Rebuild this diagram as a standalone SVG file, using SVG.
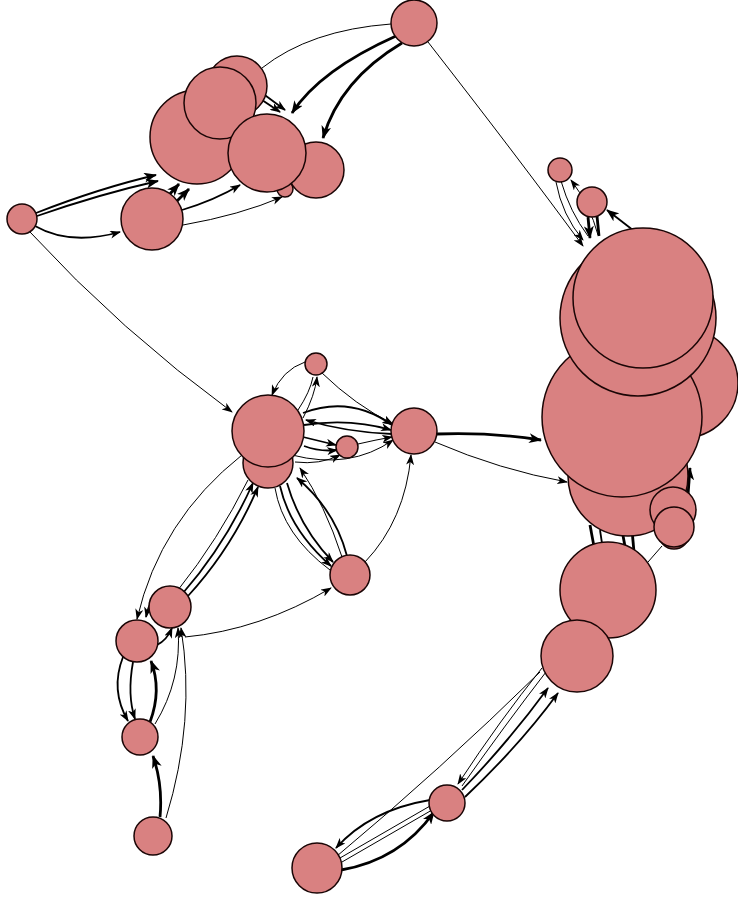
<svg xmlns="http://www.w3.org/2000/svg" width="738" height="902" viewBox="0 0 738 902">
<defs>
<marker id="a" markerUnits="userSpaceOnUse" markerWidth="11" markerHeight="8" refX="10" refY="4" orient="auto"><path d="M0,0 L11,4 L0,8 L3,4 z" fill="#000"/></marker>
<marker id="b" markerUnits="userSpaceOnUse" markerWidth="13" markerHeight="10" refX="12" refY="5" orient="auto"><path d="M0,0 L13,5 L0,10 L3.5,5 z" fill="#000"/></marker>
</defs>
<style>
.n{fill:#d98181;stroke:#1a0505;stroke-width:1.5}
.e{fill:none;stroke:#000;stroke-width:1}
.m{fill:none;stroke:#000;stroke-width:1.8}
.t{fill:none;stroke:#000;stroke-width:2.8}
</style>
<rect width="738" height="902" fill="#fff"/>
<g id="edges">
<!-- top -->
<path class="e" d="M391,24 Q310,30 262,68"/>
<path class="t" d="M396,36 Q320,70 292,113" marker-end="url(#b)"/>
<path class="t" d="M402,43 Q340,80 323,138" marker-end="url(#b)"/>
<path class="m" d="M250,92 L280,112" marker-end="url(#a)"/>
<path class="m" d="M258,90 L285,110" marker-end="url(#a)"/>
<path class="e" d="M428,42 Q520,160 583,246" marker-end="url(#a)"/>
<path class="m" d="M36,213 Q100,188 156,175" marker-end="url(#b)"/>
<path class="m" d="M37,216 Q100,194 158,181" marker-end="url(#b)"/>
<path class="m" d="M35,226 Q70,246 120,232" marker-end="url(#a)"/>
<path class="e" d="M30,232 Q120,330 232,412" marker-end="url(#a)"/>
<path class="t" d="M168,196 L179,184" marker-end="url(#b)"/>
<path class="t" d="M177,201 L189,189" marker-end="url(#b)"/>
<path class="m" d="M182,210 Q215,200 240,185" marker-end="url(#a)"/>
<path class="e" d="M183,225 Q240,215 282,197" marker-end="url(#a)"/>
<!-- right top -->
<path class="e" d="M598,235 Q590,205 571,180" marker-end="url(#a)"/>
<path class="e" d="M556,182 Q562,215 583,240" marker-end="url(#a)"/>
<path class="e" d="M561,181 Q570,212 588,236"/>
<path class="t" d="M588,217 L590,238" marker-end="url(#b)"/>
<path class="t" d="M597,216 L599,236"/>
<path class="m" d="M638,234 L607,210" marker-end="url(#b)"/>
<!-- right middle -->
<path class="t" d="M437,434 Q490,432 541,440" marker-end="url(#b)"/>
<path class="e" d="M435,442 Q500,470 567,482" marker-end="url(#a)"/>
<path class="t" d="M590,525 L595,552"/>
<path class="m" d="M600,530 L603,550"/>
<path class="t" d="M622,530 L626,552" stroke-width="4"/>
<path class="t" d="M632,530 L634,552" stroke-width="4"/>
<path class="t" d="M688,495 L690,468" marker-end="url(#b)"/>
<path class="e" d="M662,546 L648,562"/>
<!-- M N O -->
<path class="e" d="M542,668 Q500,720 458,784" marker-end="url(#a)"/>
<path class="e" d="M546,672 Q505,725 462,786"/>
<path class="m" d="M462,790 Q510,740 548,688" marker-end="url(#a)"/>
<path class="m" d="M465,797 Q520,745 558,693" marker-end="url(#a)"/>
<path class="e" d="M540,672 Q440,770 337,856"/>
<path class="m" d="M430,800 Q370,810 336,848" marker-end="url(#a)"/>
<path class="t" d="M341,870 Q400,860 434,812" marker-end="url(#b)"/>
<path class="e" d="M430,806 L340,858"/>
<path class="e" d="M432,810 L342,862"/>
<!-- middle -->
<path class="e" d="M305,362 Q282,370 272,395" marker-end="url(#a)"/>
<path class="e" d="M303,418 Q315,395 317,377" marker-end="url(#a)"/>
<path class="e" d="M298,410 Q310,392 313,377"/>
<path class="e" d="M322,373 Q355,405 393,424" marker-end="url(#a)"/>
<path class="m" d="M303,413 Q350,395 392,425" marker-end="url(#a)"/>
<path class="m" d="M304,425 Q350,418 391,430" marker-end="url(#a)"/>
<path class="m" d="M392,434 Q345,432 306,420" marker-end="url(#a)"/>
<path class="m" d="M303,437 L336,445" marker-end="url(#a)"/>
<path class="m" d="M304,446 Q320,452 337,450" marker-end="url(#a)"/>
<path class="e" d="M358,444 Q375,440 392,437" marker-end="url(#a)"/>
<path class="e" d="M292,455 Q350,470 393,440" marker-end="url(#a)"/>
<path class="e" d="M295,462 Q320,465 340,455" marker-end="url(#a)"/>
<path class="m" d="M280,486 Q290,530 331,566" marker-end="url(#a)"/>
<path class="m" d="M287,483 Q300,528 333,562" marker-end="url(#a)"/>
<path class="e" d="M275,488 Q283,535 330,570"/>
<path class="m" d="M347,556 Q335,510 297,478" marker-end="url(#a)"/>
<path class="e" d="M342,557 Q325,505 300,468" marker-end="url(#a)"/>
<path class="e" d="M365,562 Q405,520 411,455" marker-end="url(#a)"/>
<path class="e" d="M185,637 Q260,630 331,588" marker-end="url(#a)"/>
<path class="m" d="M183,593 Q225,545 253,483" marker-end="url(#a)"/>
<path class="m" d="M188,596 Q232,548 258,487" marker-end="url(#a)"/>
<path class="e" d="M178,590 Q218,540 248,480"/>
<path class="e" d="M242,455 Q160,520 137,619" marker-end="url(#a)"/>
<path class="m" d="M160,590 Q150,598 146,617" marker-end="url(#a)"/>
<path class="m" d="M157,645 Q167,640 172,628" marker-end="url(#a)"/>
<path class="m" d="M123,657 Q110,690 128,721" marker-end="url(#a)"/>
<path class="m" d="M133,662 Q127,695 135,719" marker-end="url(#a)"/>
<path class="t" d="M150,722 Q162,690 151,661" marker-end="url(#b)"/>
<path class="e" d="M155,724 Q182,680 178,628" marker-end="url(#a)"/>
<path class="t" d="M160,817 Q163,785 153,756" marker-end="url(#b)"/>
<path class="e" d="M166,818 Q196,720 181,628" marker-end="url(#a)"/>
</g>
<g id="nodes">
<g id="n-top"><circle class="n" cx="414" cy="23" r="23"/></g>
<g id="n-left"><circle class="n" cx="22" cy="219" r="15"/></g>
<g id="n-f"><circle class="n" cx="285" cy="189" r="8"/></g>
<g id="n-e"><circle class="n" cx="316" cy="170" r="28"/></g>
<g id="n-b"><circle class="n" cx="237" cy="86" r="30"/></g>
<g id="n-a"><circle class="n" cx="197" cy="137" r="47"/></g>
<g id="n-c"><circle class="n" cx="220" cy="103" r="36"/></g>
<g id="n-d"><circle class="n" cx="267" cy="153" r="39"/></g>
<g id="n-g"><circle class="n" cx="152" cy="219" r="31"/></g>
<g id="n-h"><circle class="n" cx="560" cy="170" r="12"/></g>
<g id="n-i"><circle class="n" cx="592" cy="202" r="15"/></g>
<g id="n-j5"><circle class="n" cx="628" cy="476" r="60"/></g>
<g id="n-j3"><circle class="n" cx="683" cy="383" r="55"/></g>
<g id="n-j4"><circle class="n" cx="622" cy="417" r="80"/></g>
<g id="n-j2"><circle class="n" cx="638" cy="318" r="78"/></g>
<g id="n-j1"><circle class="n" cx="643" cy="298" r="70"/></g>
<g id="n-k1"><circle class="n" cx="673" cy="510" r="23"/></g>
<g id="n-k3"><circle class="n" cx="674" cy="534" r="15"/></g>
<g id="n-k2"><circle class="n" cx="674" cy="527" r="20"/></g>
<g id="n-l"><circle class="n" cx="608" cy="590" r="48"/></g>
<g id="n-m"><circle class="n" cx="577" cy="656" r="36"/></g>
<g id="n-n"><circle class="n" cx="447" cy="803" r="18"/></g>
<g id="n-o"><circle class="n" cx="317" cy="868" r="25"/></g>
<g id="n-p2"><circle class="n" cx="268" cy="463" r="25"/></g>
<g id="n-p"><circle class="n" cx="268" cy="431" r="36"/></g>
<g id="n-q"><circle class="n" cx="316" cy="364" r="11"/></g>
<g id="n-r"><circle class="n" cx="414" cy="431" r="23"/></g>
<g id="n-s"><circle class="n" cx="347" cy="447" r="11"/></g>
<g id="n-t"><circle class="n" cx="350" cy="575" r="20"/></g>
<g id="n-u"><circle class="n" cx="170" cy="607" r="21"/></g>
<g id="n-v"><circle class="n" cx="137" cy="641" r="21"/></g>
<g id="n-w"><circle class="n" cx="140" cy="737" r="18"/></g>
<g id="n-x"><circle class="n" cx="153" cy="836" r="19"/></g>
</g>
</svg>
